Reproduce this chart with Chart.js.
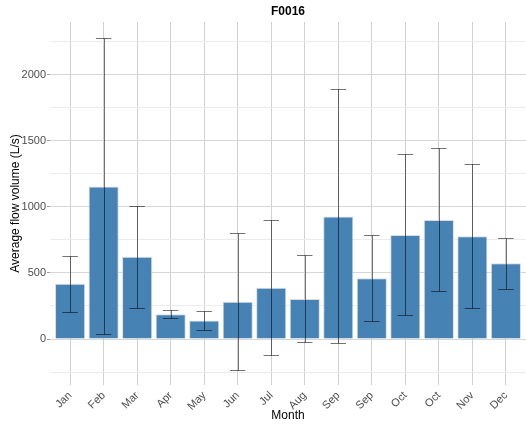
<!DOCTYPE html>
<html>
<head>
<meta charset="utf-8">
<script src="https://cdn.jsdelivr.net/npm/chart.js@4.4.1/dist/chart.umd.min.js"></script>
<style>
  html, body { margin: 0; padding: 0; background: #fff; }
  #wrap { width: 526px; height: 425px; }
</style>
</head>
<body>
<div id="wrap"><canvas id="chart"></canvas></div>
<script>
// monthly average flow and the spread around it
const months = ["Jan", "Feb", "Mar", "Apr", "May", "Jun", "Jul", "Aug", "Sep", "Sep", "Oct", "Oct", "Nov", "Dec"];
const meanFlow = [418, 1155, 623, 187, 141, 282, 388, 303, 928, 459, 787, 900, 777, 573];
const lowFlow = [207, 40, 237, 157, 68, -235, -121, -25, -33, 134, 179, 361, 237, 376];
const highFlow = [630, 2278, 1009, 222, 214, 802, 900, 638, 1889, 785, 1398, 1448, 1322, 767];
const yTicks = [-250, 0, 250, 500, 750, 1000, 1250, 1500, 1750, 2000, 2250];

const font = "'Liberation Sans', Arial, sans-serif";

// error bars on top of the bars
const errorBars = {
  id: "errorBars",
  afterDatasetsDraw(chart) {
    const { ctx, scales: { x, y } } = chart;
    ctx.save();
    ctx.strokeStyle = "rgba(0,0,0,0.55)";
    ctx.lineWidth = 1;
    months.forEach((m, i) => {
      const px = Math.round(x.getPixelForValue(i)) + 0.5;
      const x0 = x.getPixelForValue(i - 0.23);
      const x1 = x.getPixelForValue(i + 0.23);
      const yLo = Math.round(y.getPixelForValue(lowFlow[i])) + 0.5;
      const yHi = Math.round(y.getPixelForValue(highFlow[i])) + 0.5;
      ctx.beginPath();
      ctx.moveTo(px, yLo); ctx.lineTo(px, yHi);
      ctx.moveTo(x0, yLo); ctx.lineTo(x1, yLo);
      ctx.moveTo(x0, yHi); ctx.lineTo(x1, yHi);
      ctx.stroke();
    });
    ctx.restore();
  }
};

// title centred over the plot panel
const panelTitle = {
  id: "panelTitle",
  afterDraw(chart) {
    const { ctx, chartArea } = chart;
    ctx.save();
    ctx.fillStyle = "#000";
    ctx.font = "bold 12px " + font;
    ctx.textAlign = "center";
    ctx.textBaseline = "middle";
    ctx.fillText("F0016", (chartArea.left + chartArea.right) / 2, 12);
    ctx.restore();
  }
};

new Chart(document.getElementById("chart"), {
  type: "bar",
  data: {
    datasets: [{
      data: meanFlow.map((v, i) => ({ x: i, y: v })),
      backgroundColor: "#4682B4",
      borderColor: "rgba(215,215,215,0.9)",
      borderWidth: 1,
      barPercentage: 0.9,
      categoryPercentage: 1.0
    }]
  },
  options: {
    responsive: true,
    maintainAspectRatio: false,
    animation: false,
    layout: { padding: { top: 22, left: 0, right: 0, bottom: 0 } },
    plugins: { legend: { display: false }, tooltip: { enabled: false } },
    scales: {
      x: {
        type: "linear",
        min: -0.6,
        max: 13.6,
        offset: false,
        afterBuildTicks: (s) => { s.ticks = months.map((m, i) => ({ value: i })); },
        afterFit: (s) => { s.height = 40; s.paddingLeft = 0; s.paddingRight = 0; },
        border: { display: false },
        grid: { color: "#d0d0d0", lineWidth: 1, drawTicks: false, offset: false },
        ticks: {
          callback: (v) => months[v],
          minRotation: 45,
          maxRotation: 45,
          padding: 4,
          color: "#4d4d4d",
          font: { family: font, size: 11 }
        },
        title: {
          display: true,
          text: "Month",
          color: "#000",
          padding: { top: 0, bottom: 2 },
          font: { family: font, size: 12 }
        }
      },
      y: {
        min: -348,
        max: 2399,
        afterBuildTicks: (s) => { s.ticks = yTicks.map(v => ({ value: v })); },
        afterFit: (s) => { s.width = 50; },
        border: { display: false },
        grid: {
          color: (c) => (c.tick && c.tick.value % 500 === 0) ? "#d6d6d6" : "#ebebeb",
          tickColor: (c) => (c.tick && c.tick.value % 500 === 0) ? "#a0a0a0" : "rgba(0,0,0,0)",
          tickLength: 3,
          lineWidth: 1
        },
        ticks: {
          callback: (v) => (v % 500 === 0 ? String(v) : ""),
          padding: 1,
          color: "#4d4d4d",
          font: { family: font, size: 11 }
        },
        title: {
          display: true,
          text: "Average flow volume (L/s)",
          color: "#000",
          padding: { top: 8, bottom: 0 },
          font: { family: font, size: 12 }
        }
      }
    }
  },
  plugins: [errorBars, panelTitle]
});
</script>
</body>
</html>
